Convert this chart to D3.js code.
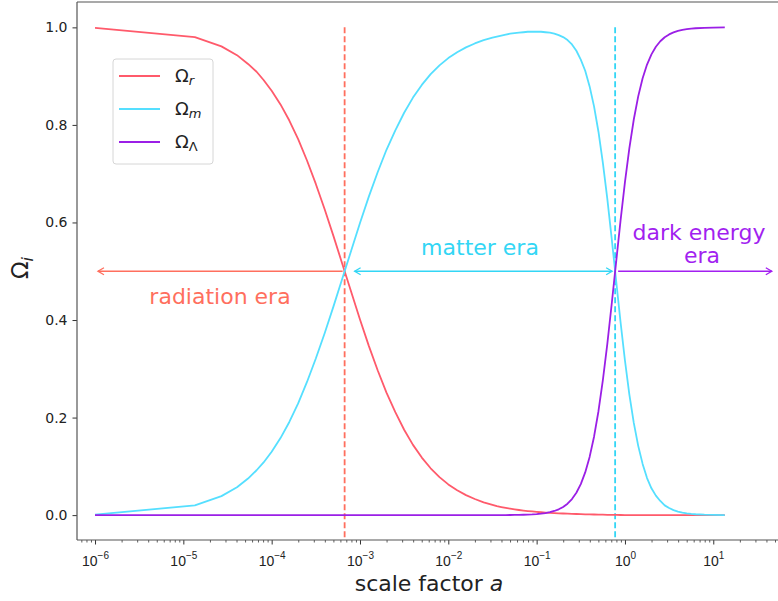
<!DOCTYPE html>
<html>
<head>
<meta charset="utf-8">
<script src="https://cdn.jsdelivr.net/npm/d3@7"></script>
<style>
  body { margin: 0; background: #fff; }
  svg { font-family: "DejaVu Sans", sans-serif; }
</style>
</head>
<body>
<div id="chart"></div>
<script>
// scale factor samples (first few are linearly spaced, hence the kinks)
const scaleFactor = [
  1e-6, 1.35e-5, 2.7e-5, 4.05e-5, 5.4e-5, 6.75e-5, 8.1e-5,
  1e-4, 1.259e-4, 1.585e-4, 1.995e-4, 2.512e-4, 3.162e-4, 3.981e-4, 5.012e-4, 6.31e-4, 7.943e-4,
  1e-3, 1.259e-3, 1.585e-3, 1.995e-3, 2.512e-3, 3.162e-3, 3.981e-3, 5.012e-3, 6.31e-3, 7.943e-3,
  1e-2, 1.259e-2, 1.585e-2, 1.995e-2, 2.512e-2, 3.162e-2,
  3.548e-2, 3.981e-2, 4.467e-2, 5.012e-2, 5.623e-2, 6.31e-2, 7.079e-2, 7.943e-2, 8.913e-2,
  0.1, 0.1122, 0.1259, 0.1413, 0.1585, 0.1778, 0.1995, 0.2239, 0.2512, 0.2818,
  0.3162, 0.3548, 0.3981, 0.4467, 0.5012, 0.5623, 0.631, 0.7079, 0.7943, 0.8913,
  1.0, 1.122, 1.259, 1.413, 1.585, 1.778, 1.995, 2.239, 2.512, 2.818,
  3.162, 3.548, 3.981, 4.467, 5.012, 5.623, 6.31, 7.943, 10.0, 13.5
];
const omegaR = [
  0.999, 0.980, 0.961, 0.943, 0.925, 0.909, 0.892,
  0.870, 0.842, 0.809, 0.771, 0.727, 0.679, 0.627, 0.572, 0.515, 0.458,
  0.401, 0.347, 0.297, 0.251, 0.211, 0.175, 0.144, 0.118, 0.096, 0.078,
  0.063, 0.051, 0.041, 0.033, 0.026, 0.021,
  0.0185, 0.0166, 0.0148, 0.0132, 0.0118, 0.0105, 0.0094, 0.0084, 0.0075,
  0.0066, 0.0059, 0.0053, 0.0047, 0.0042, 0.0037, 0.0033, 0.0029, 0.0026, 0.0023,
  0.0020, 0.0017, 0.0015, 0.0013, 0.0011, 0.0009, 0.0007, 0.0005, 0.0004, 0.0003,
  0.0002, 0.0002, 0.0001, 0.0001, 0, 0, 0, 0, 0, 0,
  0, 0, 0, 0, 0, 0, 0, 0, 0, 0
];
const omegaM = [
  0.001, 0.020, 0.039, 0.057, 0.075, 0.092, 0.108,
  0.130, 0.158, 0.191, 0.229, 0.273, 0.321, 0.373, 0.428, 0.485, 0.542,
  0.599, 0.653, 0.703, 0.749, 0.789, 0.825, 0.856, 0.882, 0.904, 0.922,
  0.937, 0.949, 0.959, 0.967, 0.974, 0.979,
  0.981, 0.983, 0.985, 0.987, 0.988, 0.989, 0.990, 0.991, 0.991,
  0.991, 0.991, 0.990, 0.989, 0.987, 0.984, 0.980, 0.974, 0.965, 0.952,
  0.934, 0.911, 0.879, 0.838, 0.786, 0.722, 0.649, 0.567, 0.481, 0.396,
  0.317, 0.247, 0.189, 0.142, 0.105, 0.076, 0.055, 0.040, 0.029, 0.020,
  0.0145, 0.0103, 0.0073, 0.0052, 0.0037, 0.0026, 0.0018, 0.0009, 0.0005, 0.0002
];
const omegaL = [
  0, 0, 0, 0, 0, 0, 0,
  0, 0, 0, 0, 0, 0, 0, 0, 0, 0,
  0, 0, 0, 0, 0, 0, 0, 0, 0, 0,
  0, 0, 0, 0, 0, 0.0001,
  0.0001, 0.0001, 0.0002, 0.0003, 0.0004, 0.0005, 0.0008, 0.0011, 0.0015,
  0.0021, 0.0030, 0.0043, 0.0060, 0.0085, 0.0119, 0.0168, 0.0235, 0.0329, 0.0459,
  0.0636, 0.0876, 0.1194, 0.1608, 0.2130, 0.2766, 0.3507, 0.4328, 0.5188, 0.6036,
  0.6827, 0.7524, 0.8111, 0.8585, 0.8955, 0.9237, 0.9447, 0.9602, 0.9715, 0.9797,
  0.9855, 0.9897, 0.9927, 0.9948, 0.9963, 0.9974, 0.9982, 0.9991, 0.9995, 0.9998
];

const seriesNames = ["r", "m", "Λ"];
const seriesColors = ["#ff5a6b", "#55dfff", "#9b1fe6"];

// transitions (a where two components are equal)
const aEquality = 6.7e-4;
const aLambda = 0.774;

const xMajorTicks = [1e-6, 1e-5, 1e-4, 1e-3, 1e-2, 1e-1, 1e0, 1e1];
const xMajorExp = ["−6", "−5", "−4", "−3", "−2", "−1", "0", "1"];
const yTicks = [0, 0.2, 0.4, 0.6, 0.8, 1.0];

const width = 778, height = 601;
const plot = {left: 77, top: 2, bottom: 540, right: 791};

const svg = d3.select("#chart").append("svg")
    .attr("width", width)
    .attr("height", height);

const x = d3.scaleLog()
    .domain([Math.pow(10, -6.204), Math.pow(10, 1.88)])
    .range([plot.left, plot.right]);
const y = d3.scaleLinear()
    .domain([-0.051, 1.052])
    .range([plot.bottom, plot.top]);

svg.append("defs").append("clipPath").attr("id", "clip")
  .append("rect")
    .attr("x", plot.left).attr("y", plot.top)
    .attr("width", plot.right - plot.left).attr("height", plot.bottom - plot.top);

// x axis: minor then major ticks
let minors = [];
for (let k = -7; k <= 1; k++) {
    for (let m = 2; m <= 9; m++) {
        let v = m * Math.pow(10, k);
        if (v > x.domain()[0] && x(v) < 778) minors.push(v);
    }
}
svg.append("g")
    .attr("transform", `translate(0,${plot.bottom})`)
    .call(d3.axisBottom(x).tickValues(minors).tickSize(2.5).tickFormat(""))
    .call(g => g.select(".domain").remove())
    .call(g => g.selectAll("line").attr("stroke", "#333").attr("stroke-width", 0.8));

const xAxis = svg.append("g")
    .attr("transform", `translate(0,${plot.bottom})`)
    .call(d3.axisBottom(x).tickValues(xMajorTicks).tickSize(4.5).tickFormat(""))
    .call(g => g.select(".domain").remove())
    .call(g => g.selectAll("line").attr("stroke", "#333").attr("stroke-width", 1));

xAxis.selectAll(".tick").append("text")
    .attr("y", 26)
    .attr("fill", "#222")
    .attr("font-size", 14)
    .attr("text-anchor", "middle")
    .each(function(d, i) {
        let t = d3.select(this);
        t.append("tspan").text("10");
        t.append("tspan").attr("dy", -7).attr("font-size", 10).text(xMajorExp[i]);
    });

// y axis
svg.append("g")
    .attr("transform", `translate(${plot.left},0)`)
    .call(d3.axisLeft(y).tickValues(yTicks).tickSize(4.5).tickPadding(5).tickFormat(d3.format(".1f")))
    .call(g => g.select(".domain").remove())
    .call(g => g.selectAll("line").attr("stroke", "#333"))
    .call(g => g.selectAll("text").attr("font-size", 14).attr("fill", "#222")
        .attr("font-family", "DejaVu Sans"));

// spines
svg.append("line").attr("x1", plot.left).attr("x2", plot.left)
    .attr("y1", plot.top).attr("y2", plot.bottom)
    .attr("stroke", "#555").attr("stroke-width", 1.2);
svg.append("line").attr("x1", plot.left).attr("x2", width)
    .attr("y1", plot.bottom).attr("y2", plot.bottom)
    .attr("stroke", "#555").attr("stroke-width", 1.2);
svg.append("line").attr("x1", plot.left).attr("x2", width)
    .attr("y1", plot.top).attr("y2", plot.top)
    .attr("stroke", "#555").attr("stroke-width", 1.2);

// axis labels
svg.append("text")
    .attr("x", 429).attr("y", 591)
    .attr("text-anchor", "middle")
    .attr("font-size", 22)
    .attr("fill", "#222")
    .call(t => {
        t.append("tspan").text("scale factor ");
        t.append("tspan").attr("font-style", "italic").text("a");
    });

svg.append("text")
    .attr("transform", "translate(28,268) rotate(-90)")
    .attr("text-anchor", "middle")
    .attr("font-size", 23)
    .attr("fill", "#222")
    .call(t => {
        t.append("tspan").text("Ω");
        t.append("tspan").attr("font-size", 16).attr("dy", 5).attr("font-style", "italic").text("i");
    });

// curves
const series = [omegaR, omegaM, omegaL];
const line = d3.line()
    .x(d => x(d[0]))
    .y(d => y(d[1]));

const curves = svg.append("g").attr("clip-path", "url(#clip)");

// vertical dashed lines at transitions
curves.append("line")
    .attr("x1", x(aEquality)).attr("x2", x(aEquality))
    .attr("y1", y(1.0)).attr("y2", plot.bottom)
    .attr("stroke", "#ff6f5e").attr("stroke-width", 1.8)
    .attr("stroke-dasharray", "6,3");
curves.append("line")
    .attr("x1", x(aLambda)).attr("x2", x(aLambda))
    .attr("y1", y(1.0)).attr("y2", plot.bottom)
    .attr("stroke", "#33d6f5").attr("stroke-width", 1.8)
    .attr("stroke-dasharray", "6,3");

series.forEach((vals, i) => {
    curves.append("path")
        .datum(scaleFactor.map((a, j) => [a, vals[j]]))
        .attr("fill", "none")
        .attr("stroke", seriesColors[i])
        .attr("stroke-width", 1.8)
        .attr("stroke-linejoin", "round")
        .attr("d", line);
});

// era arrows
function arrowHead(g, xTip, yTip, dir, color) {
    g.append("path")
        .attr("d", `M${xTip - dir * 6},${yTip - 3.5} L${xTip},${yTip} L${xTip - dir * 6},${yTip + 3.5}`)
        .attr("fill", "none")
        .attr("stroke", color)
        .attr("stroke-width", 1.3);
}
function eraArrow(x1, x2, color, both) {
    let g = svg.append("g");
    let yy = y(0.5);
    g.append("line")
        .attr("x1", x1).attr("x2", x2)
        .attr("y1", yy).attr("y2", yy)
        .attr("stroke", color).attr("stroke-width", 1.3);
    arrowHead(g, x2, yy, Math.sign(x2 - x1), color);
    if (both) arrowHead(g, x1, yy, Math.sign(x1 - x2), color);
}
eraArrow(x(aEquality) - 2, x(1.08e-6), "#ff6f5e", false);
eraArrow(x(aEquality) + 10, x(aLambda) - 3, "#33d6f5", true);
eraArrow(x(aLambda) + 3, x(46), "#a21ff0", false);

// era labels
svg.append("text").attr("x", 220).attr("y", 304)
    .attr("text-anchor", "middle").attr("font-size", 22)
    .attr("fill", "#ff6f5e").text("radiation era");
svg.append("text").attr("x", 480).attr("y", 255)
    .attr("text-anchor", "middle").attr("font-size", 22)
    .attr("fill", "#33d6f5").text("matter era");
svg.append("text").attr("x", 699).attr("y", 240)
    .attr("text-anchor", "middle").attr("font-size", 22)
    .attr("fill", "#a21ff0").text("dark energy");
svg.append("text").attr("x", 702).attr("y", 263)
    .attr("text-anchor", "middle").attr("font-size", 22)
    .attr("fill", "#a21ff0").text("era");

// legend
const legend = svg.append("g").attr("transform", "translate(113,59)");
legend.append("rect")
    .attr("width", 100).attr("height", 105)
    .attr("rx", 3)
    .attr("fill", "#fff").attr("fill-opacity", 0.8)
    .attr("stroke", "#d6d6d6");
seriesNames.forEach((name, i) => {
    let yy = 17 + i * 33;
    legend.append("line")
        .attr("x1", 6).attr("x2", 47)
        .attr("y1", yy).attr("y2", yy)
        .attr("stroke", seriesColors[i]).attr("stroke-width", 1.8);
    legend.append("text")
        .attr("x", 62).attr("y", yy + 6)
        .attr("font-size", 18).attr("fill", "#222")
        .call(t => {
            t.append("tspan").text("Ω");
            t.append("tspan").attr("font-size", 13).attr("dy", 3)
                .attr("font-style", name === "Λ" ? "normal" : "italic").text(name);
        });
});
</script>
</body>
</html>
